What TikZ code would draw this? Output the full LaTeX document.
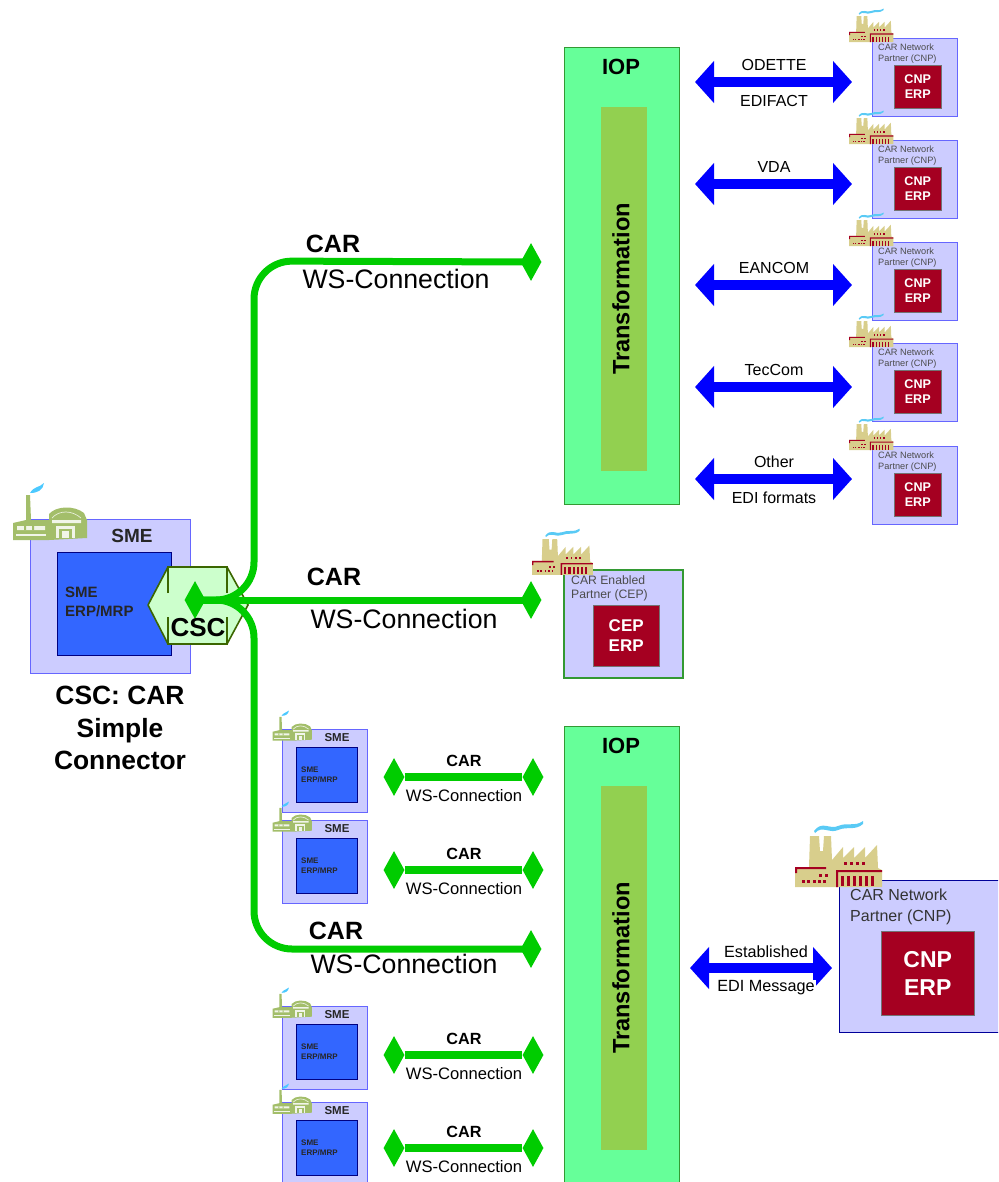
\documentclass[tikz,border=0pt]{standalone}
\usepackage{fontspec}
\setmainfont{Liberation Sans}
\usetikzlibrary{arrows.meta}
\usetikzlibrary{shapes.geometric}
\definecolor{lilac}{HTML}{CCCCFF}
\definecolor{lilacline}{HTML}{6666FF}
\definecolor{royal}{HTML}{3366FF}
\definecolor{wine}{HTML}{A50021}
\definecolor{carline}{HTML}{00CC00}
\definecolor{mint}{HTML}{66FF99}
\definecolor{iopline}{HTML}{339933}
\definecolor{olivebar}{HTML}{92D050}
\definecolor{sand}{HTML}{D8CE8C}
\definecolor{moss}{HTML}{A3BE6A}
\definecolor{cscline}{HTML}{3B6600}
\newcommand{\fs}[1]{\fontsize{#1}{#1}\selectfont}
\tikzset{
 partnerbox/.style={draw=lilacline, fill=lilac, line width=1, anchor=north west, inner sep=0},
 erpbox/.style={draw=black!55, fill=wine, text=white, font=\bfseries, align=center, anchor=north west, inner sep=0},
 smeerp/.style={draw=blue!50!black, fill=royal, line width=.8, anchor=north west, inner sep=0},
 ioptower/.style={draw=iopline, fill=mint, line width=1.2, anchor=north west, minimum width=115, inner sep=0},
 iopbar/.style={fill=olivebar, anchor=north west, minimum width=46, minimum height=364, inner sep=0},
 greentip/.style={diamond, fill=carline, aspect=.56, minimum width=21, minimum height=38, inner sep=0},
 carthick/.style={draw=carline, line width=7},
 ediarrow/.style={draw=blue, line width=10, {Triangle[length=19,width=41]}-{Triangle[length=19,width=41]}},
 greytext/.style={text=black!70, align=left, anchor=north west, inner sep=0},
 pics/redfactory/.style={code={
  \fill[cyan!65!white] (19,11) .. controls (27,0) and (35,10) .. (43,6) .. controls (52,2) and (60,7) .. (68,1) -- (68,4) .. controls (60,11) and (52,6) .. (43,10) .. controls (35,14) and (27,5) .. (20,13) -- cycle;
  \fill[sand] (15,16) -- (24,16) -- (25,31) -- (28,31) -- (29,16) -- (36,16) -- (37,40) -- (48,27) -- (48,38) -- (59,27) -- (59,38) -- (70,27) -- (70,38) -- (82,25) -- (83,48) -- (87,50) -- (87,67) -- (0,67) -- (0,47) -- (14,47) -- cycle;
  \fill[wine] (0,47) rectangle (31,49) (0,47) rectangle (2,53) (41,50) rectangle (87,52) (41,50) rectangle (43,67);
  \foreach \x in {46,52,58,64,70,76} {\fill[wine] (\x,56) rectangle ++(3,10);}
  \foreach \x in {7,12,18,23,28} {\fill[wine] (\x,60) rectangle ++(2.6,2.6);}
  \foreach \x in {24,30} {\fill[wine] (\x,54) rectangle ++(2.6,2.6);}
  \foreach \x in {49,55,61,67} {\fill[wine] (\x,42) rectangle ++(2.6,2.6);}
 }},
 pics/greenfactory/.style={code={
  \fill[blue!30!cyan!70] (18,11) .. controls (22,4) and (27,6) .. (32,1) .. controls (31,8) and (26,11) .. (18,11) -- cycle;
  \fill[moss] (14,13) -- (18,13) -- (19,38) -- (37,38) -- (37,32) .. controls (44,24) and (62,23) .. (72,31) -- (75,38) -- (75,56) -- (37,58) -- (1,58) -- (1,41) -- (14,38) -- cycle;
  \draw[white!75!moss, line width=.7] (40,36) .. controls (47,28) and (60,28) .. (69,36);
  \fill[white!85!moss] (5,44) rectangle (33,48) (40,38) rectangle (69,41);
  \fill[moss] (12,44) rectangle (14,48) (20,44) rectangle (22,48);
  \fill[white!85!moss] (44,44) rectangle (63,56);
  \fill[moss] (47,47) rectangle (60,56);
  \fill[white!85!moss] (50,49) rectangle (57,56);
  \fill[white!85!moss] (4,52) rectangle (34,53.5);
 }},
}
\begin{document}
\begin{tikzpicture}[x=1pt, y=-1pt]
\clip (0,0) rectangle (998,1182);
% IOP towers
\foreach \n/\y/\h in {A/47/457, B/726/470} {
 \node[ioptower, minimum height=\h] (iop\n) at (564,\y) {};
 \node[iopbar] (bar\n) at (601,\y+60) {};
 \node[font=\bfseries\fs{22}] (ioplabel\n) at (621,\y+20) {IOP};
 \node[font=\bfseries\fs{23.6}, rotate=90] (trans\n) at (621,\y+242) {Transformation};
}
% partners on top right
\foreach \i/\y/\a/\t in {1/38/82/ODETTE, 2/140/184/VDA, 3/242/285/EANCOM, 4/343/387/TecCom, 5/446/479/Other} {
 \node[partnerbox, minimum width=85, minimum height=78] (cnp\i) at (872,\y) {};
 \pic[scale=.51] at (849,\y-30) {redfactory};
 \node[greytext, font=\fs{9.2}] (cnptext\i) at (878,\y+6) {CAR Network\\[1.5pt]Partner (CNP)};
 \node[erpbox, font=\bfseries\fs{12.6}, minimum width=47, minimum height=43] (cnperp\i) at (894,\y+27) {CNP\\[2pt]ERP};
 \coordinate (ediL\i) at (695,\a);
 \coordinate (ediR\i) at (852,\a);
 \draw[ediarrow] (ediL\i) -- (ediR\i);
 \node[font=\fs{16}] (edilabel\i) at (774,\a-17) {\t};
}
\node[font=\fs{16}] (edifact) at (774,101) {EDIFACT};
\node[font=\fs{16}] (ediformats) at (774,498) {EDI formats};
% CEP
\node[partnerbox, draw=iopline, line width=2, minimum width=119, minimum height=108] (cep) at (563,569) {};
\pic[scale=.7] at (532,528) {redfactory};
\node[greytext, font=\fs{12.2}] (ceptext) at (571,575) {CAR Enabled\\[2pt]Partner (CEP)};
\node[erpbox, font=\bfseries\fs{17}, minimum width=66, minimum height=61] (ceperp) at (593,605) {CEP\\[3pt]ERP};
% big SME
\node[partnerbox, minimum width=160, minimum height=154] (sme) at (30,519) {};
\pic[scale=1] at (12,482) {greenfactory};
\node[font=\bfseries\fs{19}, text=black!85] (smelabel) at (132,536) {SME};
\node[smeerp, minimum width=114, minimum height=103] (smeerp) at (57,552) {};
\node[font=\bfseries\fs{15}, text=black!85, align=left, anchor=north west, inner sep=0] (smetext) at (65,587) {SME\\[3.5pt]ERP/MRP};
% CSC
\fill[green!20] (148,605) -- (168,567) -- (227,567) -- (248,605) -- (227,644) -- (168,644) -- cycle;
\draw[cscline, line width=1.6] (148,605) -- (168,567) (148,605) -- (168,644) (227,567) -- (248,605) -- (227,644);
\draw[cscline, line width=2.6] (168,593) -- (168,567) -- (227,567) -- (227,593) (168,617) -- (168,644) -- (227,644) -- (227,617);
% CAR connections
\node[greentip] (cscdot) at (195,600) {};
\node[greentip] (topdot) at (531,262) {};
\node[greentip] (cepdot) at (531,600) {};
\node[greentip] (lowdot) at (531,949) {};
\coordinate (bendmid) at (254,600);
\coordinate (bendtop) at (254,261);
\coordinate (bendlow) at (254,949);
\draw[carthick, rounded corners=38] (cscdot.center) -- (bendmid) -- (bendtop) -- (topdot.center);
\draw[carthick, rounded corners=38] (cscdot.center) -- (bendmid) -- (bendlow) -- (lowdot.center);
\draw[carthick] (cscdot.center) -- (cepdot.center);
\node[font=\bfseries\fs{26}] (csclabel) at (198,628) {CSC};
\node[font=\bfseries\fs{25}] (cartop) at (333,244) {CAR};
\node[font=\fs{26.7}] (wstop) at (396,279) {WS-Connection};
\node[font=\bfseries\fs{25}] (carcep) at (334,577) {CAR};
\node[font=\fs{26.7}] (wscep) at (404,619) {WS-Connection};
\node[font=\bfseries\fs{25}] (carlow) at (336,931) {CAR};
\node[font=\fs{26.7}] (wslow) at (404,964) {WS-Connection};
\node[font=\bfseries\fs{26.4}, align=center] (cscname) at (120,728) {CSC: CAR\\[6pt]Simple\\[6pt]Connector};
% small SMEs
\foreach \i/\y/\r in {1/729/777, 2/820/870, 3/1006/1055, 4/1102/1148} {
 \node[partnerbox, minimum width=85, minimum height=83] (small\i) at (282,\y) {};
 \pic[scale=.53] at (272,\y-19) {greenfactory};
 \node[font=\bfseries\fs{11.5}, text=black!85] (smallname\i) at (337,\y+9) {SME};
 \node[smeerp, minimum width=61, minimum height=55] (smallerp\i) at (296,\y+18) {};
 \node[font=\bfseries\fs{8}, text=black!85, align=left, anchor=north west, inner sep=0] (smalltext\i) at (301,\y+38) {SME\\[1.5pt]ERP/MRP};
 \node[greentip] (dotL\i) at (394,\r) {};
 \node[greentip] (dotR\i) at (533,\r) {};
 \draw[carline, line width=8] (dotL\i) -- (dotR\i);
 \node[font=\bfseries\fs{16.2}] (smallcar\i) at (464,\r-16) {CAR};
 \node[font=\fs{16.6}] (smallws\i) at (464,\r+19) {WS-Connection};
}
% big CNP
\node[partnerbox, draw=blue!60!black, minimum width=170, minimum height=152] (bigcnp) at (839,880) {};
\pic at (795,820) {redfactory};
\node[greytext, font=\fs{16}, text=black!80] (bigtext) at (850,889) {CAR Network\\[5pt]Partner (CNP)};
\node[erpbox, font=\bfseries\fs{23}, minimum width=93, minimum height=84] (bigerp) at (881,931) {CNP\\[5pt]ERP};
\coordinate (estL) at (690,968);
\coordinate (estR) at (832,968);
\draw[ediarrow] (estL) -- (estR);
\node[font=\fs{16.2}, fill=white, inner sep=1] (estup) at (766,952) {Established};
\node[font=\fs{16.2}, fill=white, inner sep=1] (estdn) at (766,988) {EDI Message};
\end{tikzpicture}
\end{document}
